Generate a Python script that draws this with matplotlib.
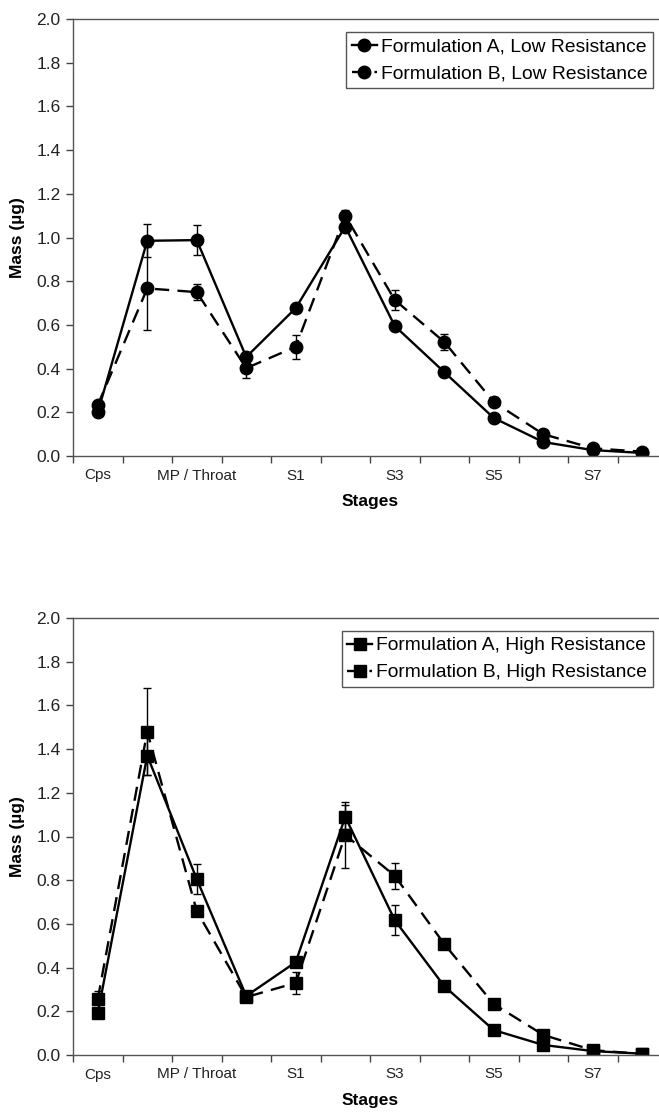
import numpy as np
import matplotlib
matplotlib.use("Agg")
import matplotlib.pyplot as plt
from matplotlib.lines import Line2D

plt.rcParams['font.family'] = ['Liberation Sans', 'DejaVu Sans']

# ------------------------------------------------------------
# data
# ------------------------------------------------------------
stages = ["Cps", "MP", "Throat", "S0", "S1", "S2", "S3", "S4", "S5", "S6", "S7", "S8"]
tick_labels = ["Cps", "", "MP / Throat", "", "S1", "", "S3", "", "S5", "", "S7", ""]

low_a = [0.20, 0.985, 0.988, 0.453, 0.677, 1.05, 0.595, 0.384, 0.174, 0.064, 0.027, 0.014]
low_a_err = [0.0, 0.075, 0.07, 0.0, 0.0, 0.0, 0.0, 0.0, 0.0, 0.0, 0.0, 0.0]
low_b = [0.233, 0.767, 0.75, 0.402, 0.50, 1.10, 0.714, 0.522, 0.247, 0.10, 0.035, 0.02]
low_b_err = [0.0, 0.19, 0.035, 0.045, 0.055, 0.025, 0.045, 0.035, 0.0, 0.0, 0.0, 0.0]

high_a = [0.19, 1.37, 0.805, 0.27, 0.425, 1.09, 0.617, 0.315, 0.114, 0.046, 0.018, 0.006]
high_a_err = [0.0, 0.09, 0.07, 0.0, 0.0, 0.055, 0.07, 0.0, 0.0, 0.0, 0.0, 0.0]
high_b = [0.255, 1.48, 0.659, 0.265, 0.33, 1.007, 0.82, 0.508, 0.233, 0.092, 0.022, 0.005]
high_b_err = [0.04, 0.2, 0.0, 0.0, 0.05, 0.15, 0.06, 0.0, 0.0, 0.0, 0.0, 0.0]

x = np.arange(len(stages))
DASH = (0, (6, 3.5))

fig = plt.figure(figsize=(6.59, 11.13), dpi=100)
ax1 = fig.add_axes([73/659, 1-456/1113, 594/659, 437/1113])
ax2 = fig.add_axes([73/659, 1-1055/1113, 594/659, 437/1113])

def panel(ax, ya, ea, yb, eb, marker, la, lb):
    ax.errorbar(x, ya, yerr=ea, color='black', lw=1.7, marker=marker, ms=9,
                elinewidth=1.0, capsize=3, capthick=1.0)
    ax.errorbar(x, yb, yerr=eb, color='black', lw=1.7, ls=DASH, marker=marker,
                ms=9, elinewidth=1.0, capsize=3, capthick=1.0)
    ax.set_xlim(-0.5, 11.5)
    ax.set_ylim(0, 2.0)
    ax.set_yticks(np.arange(0, 2.01, 0.2))
    ax.set_yticklabels([f"{v:.1f}" for v in np.arange(0, 2.01, 0.2)], fontsize=12.5, color='#222222')
    ax.set_xticks(np.arange(-0.5, 11.6, 1.0))
    ax.set_xticklabels([])
    ax.set_xticks(x, minor=True)
    ax.set_xticklabels(tick_labels, minor=True, fontsize=11, color='#222222')
    ax.tick_params(axis='x', which='minor', length=0, pad=9)
    ax.tick_params(axis='both', which='major', direction='out', length=5,
                   width=1.0, color='#444444')
    ax.tick_params(axis='y', pad=4)
    for s in ['left', 'bottom', 'top']:
        ax.spines[s].set_color('#555555')
        ax.spines[s].set_linewidth(1.0)
    ax.spines['right'].set_visible(False)
    ax.set_xlabel("Stages", fontsize=12.5, fontweight='bold', labelpad=8)
    ax.set_ylabel("Mass (µg)", fontsize=12.5, fontweight='bold', labelpad=8)
    handles = [Line2D([], [], color='black', lw=1.7, marker=marker, ms=9),
               Line2D([], [], color='black', lw=1.7, ls=DASH, marker=marker, ms=9)]
    leg = ax.legend(handles, [la, lb], loc='upper right',
                    bbox_to_anchor=(580/594, 1 - 13/437), fontsize=13.9,
                    frameon=True, fancybox=False, framealpha=1, edgecolor='#555555',
                    handlelength=1.3, handletextpad=0.2, borderpad=0.3,
                    labelspacing=0.5, borderaxespad=0)
    leg.get_frame().set_linewidth(1.0)

panel(ax1, low_a, low_a_err, low_b, low_b_err, 'o',
      "Formulation A, Low Resistance", "Formulation B, Low Resistance")
panel(ax2, high_a, high_a_err, high_b, high_b_err, 's',
      "Formulation A, High Resistance", "Formulation B, High Resistance")

fig.savefig("out.png", dpi=100)
